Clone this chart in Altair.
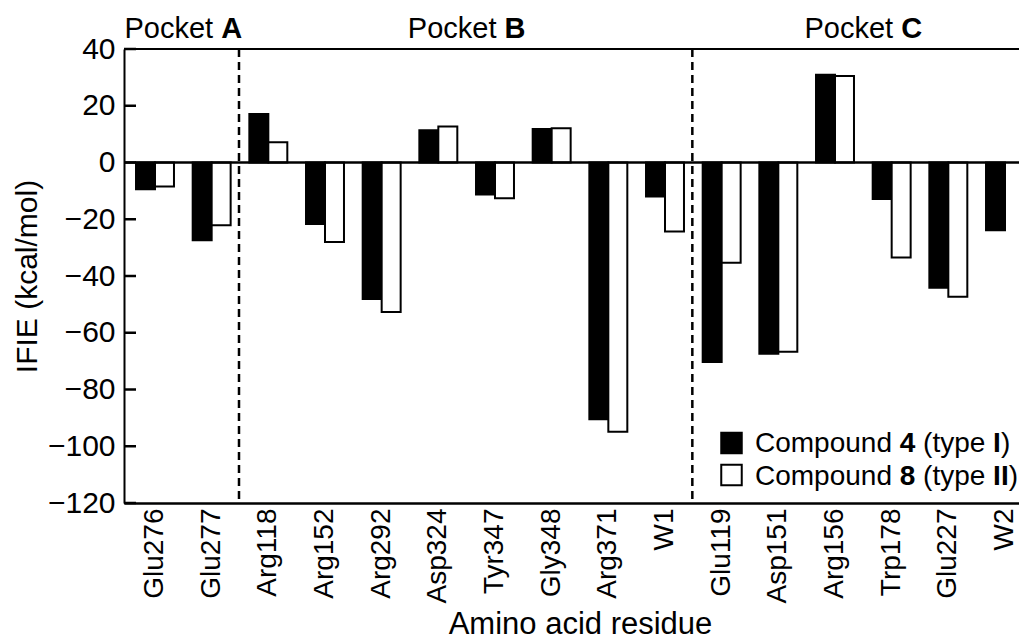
import altair as alt
import pandas as pd

# Interaction energies (IFIE, kcal/mol) per residue for the two compounds
residues = ["Glu276", "Glu277", "Arg118", "Arg152", "Arg292", "Asp324", "Tyr347",
            "Gly348", "Arg371", "W1", "Glu119", "Asp151", "Arg156", "Trp178",
            "Glu227", "W2"]
compound4 = [-9.4, -27.4, 17.1, -21.7, -48.1, 11.4, -11.3, 11.8, -90.5, -12.0,
             -70.3, -67.4, 30.9, -12.9, -44.1, -23.9]
compound8 = [-8.5, -22.1, 7.1, -28.0, -52.7, 12.7, -12.6, 12.1, -94.9, -24.3,
             -35.3, -66.7, 30.5, -33.5, -47.3, None]
compound_names = ["4", "8"]

y_ticks = [-120, -100, -80, -60, -40, -20, 0, 20, 40]

# pocket label anchors (residue to the left of each pocket's centre) and letters
pocket_anchor = ["Glu276", "Asp324", "Arg156"]
pocket_letter = ["A", "B", "C"]
# first residue of pockets B and C (a dashed boundary sits just before each)
boundary_before = ["Arg118", "Glu119"]

FONT = "Liberation Sans"
X_RANGE = 912
PAD_INNER = 0.33
PAD_OUTER = 0.212
STEP = X_RANGE / (len(residues) - PAD_INNER + 2 * PAD_OUTER)
HALF_GAP = STEP * PAD_INNER / 2          # band edge -> midpoint of the gap

# Arial/Liberation Sans advance widths (1/1000 em)
W_NORMAL = {"P": 667, "o": 556, "c": 500, "k": 500, "e": 556, "t": 278, " ": 278,
            "C": 722, "m": 833, "p": 556, "u": 556, "n": 556, "d": 556,
            "(": 333, "y": 500, ")": 333}
W_BOLD = {"A": 722, "B": 722, "C": 722, "4": 556, "8": 556, "I": 278}


def text_width(s, size, bold=False):
    table = W_BOLD if bold else W_NORMAL
    return sum(table[ch] for ch in s) * size / 1000.0


rows = []
for r, a, b in zip(residues, compound4, compound8):
    rows.append({"residue": r, "compound": "4", "ifie": a})
    if b is not None:
        rows.append({"residue": r, "compound": "8", "ifie": b})
bars_df = pd.DataFrame(rows)

x_scale = alt.Scale(domain=residues, range=[0, X_RANGE],
                    paddingInner=PAD_INNER, paddingOuter=PAD_OUTER)
y_scale = alt.Scale(domain=[-120, 40], nice=False, zero=False)

bars = alt.Chart(bars_df).mark_bar(stroke="black", strokeWidth=2).encode(
    x=alt.X("residue:N", scale=x_scale, sort=residues,
            title="Amino acid residue",
            axis=alt.Axis(labelAngle=270, ticks=False, labelFontSize=28,
                          labelPadding=5, titleFontSize=31, titlePadding=7,
                          domainWidth=2.5)),
    xOffset=alt.XOffset("compound:N", sort=compound_names),
    y=alt.Y("ifie:Q", scale=y_scale, stack=False, title="IFIE (kcal/mol)",
            axis=alt.Axis(values=y_ticks, ticks=False, grid=False,
                          labelFontSize=30, labelPadding=9, titleFontSize=30,
                          titlePadding=5, domainWidth=2)),
    fill=alt.Fill("compound:N",
                  scale=alt.Scale(domain=compound_names, range=["black", "white"]),
                  legend=None),
)

zero_line = alt.Chart(pd.DataFrame({"v": [0]})).mark_rule(
    color="black", strokeWidth=2.5).encode(y=alt.Y("v:Q", scale=y_scale))

top_line = alt.Chart(pd.DataFrame({"v": [40]})).mark_rule(
    color="black", strokeWidth=2).encode(y=alt.Y("v:Q", scale=y_scale))

# inward ticks on the y axis
ticks = alt.Chart(pd.DataFrame({"v": y_ticks})).mark_rule(
    color="black", strokeWidth=2.5).encode(
    y=alt.Y("v:Q", scale=y_scale), x=alt.value(0), x2=alt.value(12))

boundaries = alt.Chart(pd.DataFrame({"residue": boundary_before})).mark_rule(
    color="black", strokeWidth=2.5, strokeDash=[8, 5]).encode(
    x=alt.X("residue:N", scale=x_scale, bandPosition=0),
    xOffset=alt.value(-HALF_GAP - 1))

# Pocket labels: "Pocket " in regular weight followed by a bold letter,
# centred halfway between the anchor residue and the next one
P_SIZE = 29
pocket_w = text_width("Pocket ", P_SIZE) + text_width("A", P_SIZE, True)
pockets_df = pd.DataFrame({"residue": pocket_anchor, "letter": pocket_letter,
                           "word": ["Pocket"] * 3})
pocket_words = alt.Chart(pockets_df).mark_text(
    align="left", baseline="alphabetic", fontSize=P_SIZE, font=FONT,
    dx=HALF_GAP - pocket_w / 2, color="black").encode(
    x=alt.X("residue:N", scale=x_scale, bandPosition=1),
    y=alt.value(-11), text="word:N")
pocket_letters = alt.Chart(pockets_df).mark_text(
    align="left", baseline="alphabetic", fontSize=P_SIZE, font=FONT,
    fontWeight="bold",
    dx=HALF_GAP - pocket_w / 2 + text_width("Pocket ", P_SIZE),
    color="black").encode(
    x=alt.X("residue:N", scale=x_scale, bandPosition=1),
    y=alt.value(-11), text="letter:N")

# Legend drawn by hand so the compound numbers and types can be bold
L_SIZE = 28
legend_rows = [
    ("black", 394, 403, [("Compound", False), (" ", None), ("4", True), (" ", None),
                         ("(type", False), (" ", None), ("I", True), (")", False)]),
    ("white", 426, 436, [("Compound", False), (" ", None), ("8", True), (" ", None),
                         ("(type", False), (" ", None), ("II", True), (")", False)]),
]
legend_layers = []
for fill, ys, yt, segments in legend_rows:
    legend_layers.append(
        alt.Chart(pd.DataFrame({"k": [fill]})).mark_square(
            size=420, fill=fill, stroke="black", strokeWidth=2, opacity=1).encode(
            x=alt.value(607.5), y=alt.value(ys)))
    x = 631.0
    for seg, bold in segments:
        if bold is None:
            x += text_width(seg, L_SIZE)
            continue
        kwargs = {"fontWeight": "bold"} if bold else {}
        legend_layers.append(
            alt.Chart(pd.DataFrame({"t": [seg]})).mark_text(
                align="left", baseline="alphabetic", fontSize=L_SIZE, font=FONT,
                color="black", **kwargs).encode(
                x=alt.value(x), y=alt.value(yt), text="t:N"))
        x += text_width(seg, L_SIZE, bool(bold))

chart = alt.layer(
    bars, zero_line, top_line, ticks, boundaries, pocket_words, pocket_letters,
    *legend_layers
).properties(
    width=895, height=454,
    autosize=alt.AutoSizeParams(type="none"),
    padding={"left": 124, "top": 49, "right": 0, "bottom": 139},
).configure(font=FONT).configure_view(strokeWidth=0).configure_axis(
    domainColor="black", labelColor="black", titleColor="black",
    labelFont=FONT, titleFont=FONT, titleFontWeight="normal")

chart.save("out.html", embed_options={"renderer": "svg", "actions": False})
